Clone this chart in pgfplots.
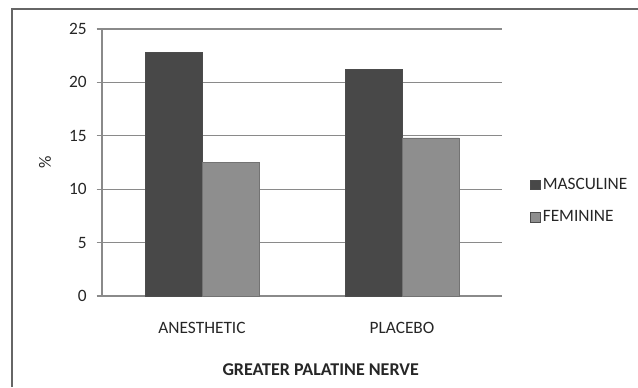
\documentclass[border=0pt]{standalone}
\usepackage{pgfplots}
\pgfplotsset{compat=1.18}
\usepackage{fontspec}
\setmainfont{Carlito}
\definecolor{masc}{HTML}{484848}
\definecolor{fem}{HTML}{8E8E8E}
\definecolor{gridc}{HTML}{8A8A8A}
\begin{document}
\begin{tikzpicture}[x=0.75pt,y=0.75pt]
\path[use as bounding box] (0,0) rectangle (638,387);
\draw[color=black!60, line width=1.5pt] (12,0) -- (12,378.5) -- (640,378.5);
\begin{axis}[
  at={(102*0.75pt,91*0.75pt)}, anchor=south west,
  scale only axis, width=300pt, height=200.25pt,
  xmin=-0.5, xmax=1.5, ymin=0, ymax=25,
  xtick={0,1}, xticklabels={ANESTHETIC,PLACEBO},
  ytick={0,5,10,15,20,25},
  axis x line*=bottom, axis y line*=left,
  axis line style={draw=gridc, line width=0.8pt, -},
  ymajorgrids, grid style={draw=gridc, line width=0.8pt},
  major tick length=4pt,
  xtick style={draw=none},
  ytick style={draw=gridc, line width=0.8pt},
  tick align=outside,
  /pgf/number format/assume math mode=true,
  tick label style={font=\fontsize{13}{15}\selectfont, text=black!85},
  yticklabel style={xshift=-4pt},
  xticklabel style={yshift=-12pt},
  ylabel={\%}, ylabel style={font=\fontsize{13}{15}\selectfont, text=black!85, at={(axis description cs:-0.1425,0.5)}, anchor=center, rotate=0},
  xlabel={\textbf{GREATER PALATINE NERVE}}, xlabel style={font=\fontsize{13.5}{15}\selectfont, text=black!85, yshift=-16pt, xshift=14pt},
  legend style={at={(1.07,0.356)}, anchor=west, draw=none, fill=none,
    font=\fontsize{13}{15}\selectfont, text=black!85, row sep=10.5pt,
    legend cell align=left, inner xsep=0pt},
  legend image code/.code={\draw[#1, draw=black!70] (0pt,-3.5pt) rectangle (7pt,3.5pt);},
]
\addplot[ybar, bar width=0.285, bar shift=-0.1425, fill=masc, draw=black!70] coordinates {(0,22.8) (1,21.2)};
\addlegendentry{MASCULINE}
\addplot[ybar, bar width=0.285, bar shift=0.1425, fill=fem, draw=black!55] coordinates {(0,12.5) (1,14.8)};
\addlegendentry{FEMININE}
\end{axis}
\end{tikzpicture}
\end{document}
